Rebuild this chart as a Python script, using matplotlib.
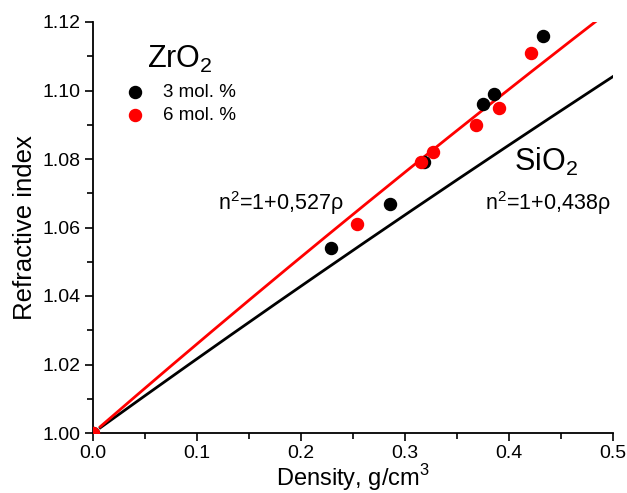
import matplotlib
matplotlib.use("Agg")
import matplotlib.pyplot as plt
import numpy as np
from matplotlib.ticker import MultipleLocator

plt.rcParams['font.family'] = ['Liberation Sans', 'DejaVu Sans']
plt.rcParams['mathtext.fontset'] = 'custom'
plt.rcParams['mathtext.rm'] = 'Liberation Sans'

# data
rho_3 = [0.0, 0.229, 0.286, 0.318, 0.375, 0.386, 0.433]
n_3 = [1.000, 1.054, 1.067, 1.079, 1.096, 1.099, 1.116]
rho_6 = [0.0, 0.254, 0.315, 0.327, 0.368, 0.390, 0.421]
n_6 = [1.000, 1.061, 1.079, 1.082, 1.090, 1.095, 1.111]
coef_zro2 = 0.527
coef_sio2 = 0.438
rho_fit = np.linspace(0.007, 0.5, 200)

fig = plt.figure(figsize=(6.27, 4.93), dpi=100)
ax = fig.add_axes([93/627, 1-433/493, 520/627, 411/493])

ax.plot(rho_fit, np.sqrt(1 + coef_sio2 * rho_fit), color='black', lw=2)
ax.plot(rho_fit, np.sqrt(1 + coef_zro2 * rho_fit), color='red', lw=2)
ax.scatter(rho_3, n_3, s=75, color='black', zorder=3, label='3 mol. %')
ax.scatter(rho_6, n_6, s=75, color='red', zorder=3, label='6 mol. %')

ax.set_xlim(0, 0.5)
ax.set_ylim(1.0, 1.12)
ax.xaxis.set_major_locator(MultipleLocator(0.1))
ax.xaxis.set_minor_locator(MultipleLocator(0.05))
ax.yaxis.set_major_locator(MultipleLocator(0.02))
ax.yaxis.set_minor_locator(MultipleLocator(0.01))
ax.xaxis.set_major_formatter(plt.FormatStrFormatter('%.1f'))
ax.yaxis.set_major_formatter(plt.FormatStrFormatter('%.2f'))
ax.tick_params(which='major', direction='out', length=6, width=1.2, labelsize=14, pad=3)
ax.tick_params(which='minor', direction='out', length=4, width=1.2)
for s in ['top', 'right']:
    ax.spines[s].set_visible(False)
for s in ['left', 'bottom']:
    ax.spines[s].set_linewidth(1.3)

ax.set_xlabel('Density, g/cm$^3$', fontsize=17, labelpad=0)
ax.set_ylabel('Refractive index', fontsize=18.5, labelpad=4)

ax.text(0.052, 1.109, 'ZrO$_2$', fontsize=22, ha='left', va='center')
leg = ax.legend(loc='upper left', bbox_to_anchor=(0.03, 0.867), frameon=False,
                fontsize=13.5, handletextpad=0.5, labelspacing=0.3, borderaxespad=0)
ax.text(0.405, 1.079, 'SiO$_2$', fontsize=22, ha='left', va='center')
ax.text(0.12, 1.067, 'n$^2$=1+0,527ρ', fontsize=15.5, ha='left', va='center')
ax.text(0.377, 1.067, 'n$^2$=1+0,438ρ', fontsize=15.5, ha='left', va='center')

fig.savefig('out.png', dpi=100)
